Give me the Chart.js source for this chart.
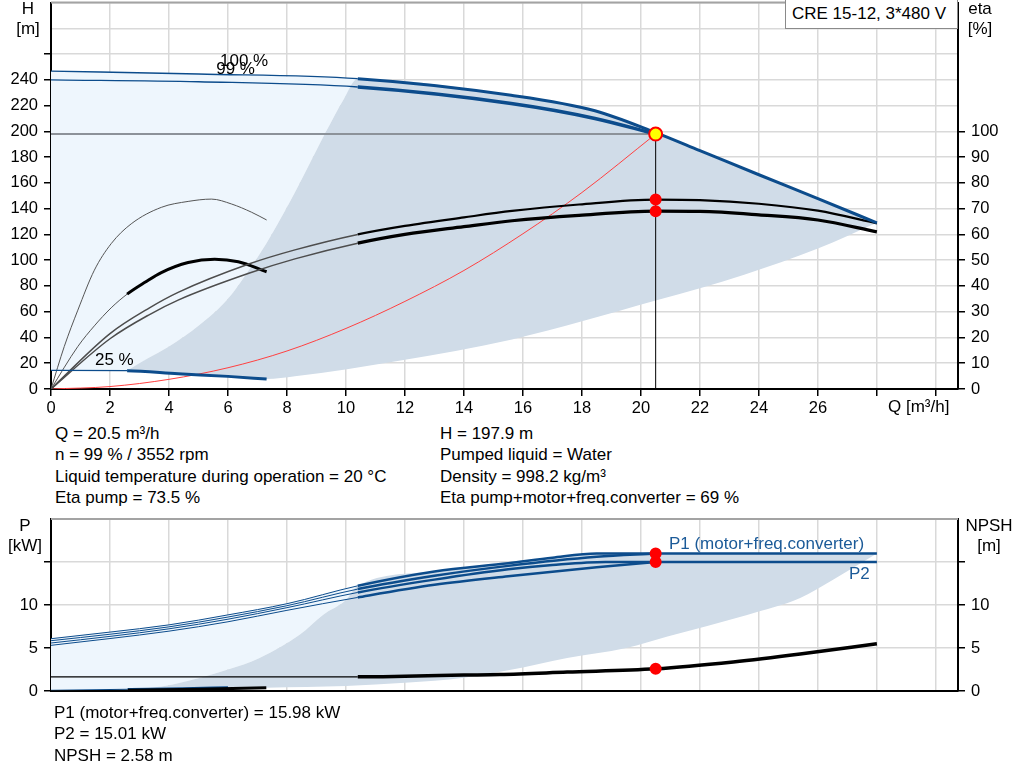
<!DOCTYPE html>
<html>
<head>
<meta charset="utf-8">
<script src="https://cdn.jsdelivr.net/npm/chart.js@4.4.1/dist/chart.umd.min.js"></script>
<style>
  body { margin: 0; background: #fff; font-family: "Liberation Sans", Arial, sans-serif; font-size: 17px; color: #000; }
  #wrap { position: relative; width: 1024px; height: 781px; overflow: hidden; }
  canvas { position: absolute; left: 0; }
  .t { position: absolute; white-space: nowrap; line-height: 21.3px; }
  .ax { position: absolute; width: 60px; text-align: center; line-height: 20px; }
  #legend { position: absolute; left: 785px; top: -1px; width: 165px; height: 28px; line-height: 28px;
            border: 1px solid #8a8a8a; background: #fff; padding-left: 6px; }
</style>
</head>
<body>
<div id="wrap">
  <canvas id="top" width="1024" height="426" style="top:-6px"></canvas>
  <canvas id="bottom" width="1024" height="200" style="top:510px"></canvas>

  <div class="ax" style="left:-2px;top:-1px">H<br>[m]</div>
  <div class="ax" style="left:950px;top:-1px">eta<br>[%]</div>
  <div class="t" style="left:888px;top:396px">Q [m³/h]</div>
  <div id="legend">CRE 15-12, 3*480 V</div>

  <div class="t" style="left:55px;top:423px">Q = 20.5 m³/h<br>n = 99 % / 3552 rpm<br>Liquid temperature during operation = 20 °C<br>Eta pump = 73.5 %</div>
  <div class="t" style="left:440px;top:423px">H = 197.9 m<br>Pumped liquid = Water<br>Density = 998.2 kg/m³<br>Eta pump+motor+freq.converter = 69 %</div>

  <div class="ax" style="left:-5px;top:516px">P<br>[kW]</div>
  <div class="ax" style="left:959px;top:516px">NPSH<br>[m]</div>

  <div class="t" style="left:54px;top:702px">P1 (motor+freq.converter) = 15.98 kW<br>P2 = 15.01 kW<br>NPSH = 2.58 m</div>
</div>

<script>
// ---- head / efficiency chart ----
const qMax = [0, 5, 10.4, 15.6, 18.44, 20.5, 22, 24, 26, 28];
const hMax = [246.8, 244.5, 240.9, 228, 216, 199, 185, 166.3, 147.7, 129];
const q99 = [0, 5, 10.4, 15.6, 18.44, 20.5];
const h99 = [240, 238.5, 234.4, 221.6, 210, 197.9];
const q25 = [0, 2.58, 4.31, 6, 7.31];
const h25 = [14.4, 14.2, 11.8, 9.8, 7.7];

const qEtaPump = [0, 2, 3.34, 4.31, 6.73, 8.27, 10.4, 12, 14, 15.63, 17.9, 20.5, 22, 24, 26, 28];
const etaPump = [0, 21.5, 31.5, 37.5, 48.6, 54, 60, 63.3, 66.6, 69.1, 71.6, 73.5, 73.3, 71.9, 69.2, 64.3];
const qEtaTot = [0, 2, 3.34, 4.31, 6.73, 8.27, 10.4, 12, 14, 15.63, 17.9, 20.5, 22, 24, 26, 28];
const etaTot = [0, 19.5, 28.9, 34.5, 45, 50.5, 56.6, 60, 63, 65.3, 67.4, 69, 68.9, 67.6, 65.6, 61];
const qEta25Pump = [0, 0.45, 0.91, 1.47, 2.04, 2.72, 3.74, 4.65, 5.44, 6.12, 6.8, 7.31];
const eta25Pump = [0, 16.5, 30.6, 46.1, 56.4, 64.1, 70.5, 72.8, 73.7, 71.8, 68.6, 65.6];
const qEta25Tot = [0, 0.91, 1.47, 2.04, 2.58, 3.2, 3.74, 4.65, 5.55, 6.35, 7.31];
const eta25Tot = [0, 16.5, 24.5, 31.5, 36.8, 41.5, 45.2, 49.1, 50.4, 49.4, 45.5];

const qSys = [0, 2, 4, 6, 8, 10, 12, 14, 16, 18, 20.5];
const hSys = [0, 1.9, 7.5, 16.5, 29.5, 47, 68, 92, 120.5, 152.5, 197.9];

// operating range edges
const qEdgeL = [2.58, 3.3, 4, 5, 6, 6.7, 7.3, 8, 8.66, 9.33, 9.9, 10.4];
const hEdgeL = [14.2, 24, 33, 49, 70, 92, 113, 141, 170, 200, 224, 240.9];
const qEdgeLow = [7.31, 8.27, 11.8, 15.63, 20.5, 23.5, 26, 28];
const hEdgeLow = [7.7, 9.8, 22, 38.5, 68.6, 88.7, 109, 129];

const dutyQ = 20.5, dutyH = 197.9, dutyEtaPump = 73.5, dutyEtaTot = 69;

// ---- power / NPSH chart ----
const qP1Max = [0, 2, 4, 6, 8, 10.4, 13, 15.5, 17, 18.5, 20.5, 24, 28];
const p1Max = [6.08, 6.85, 7.69, 8.85, 10.15, 12.23, 13.9, 14.85, 15.5, 15.98, 15.98, 15.98, 15.98];
const qP199 = [0, 2, 4, 6, 8, 10.4, 13, 15.5, 18.5, 20.5];
const p199 = [5.85, 6.6, 7.46, 8.6, 9.92, 11.85, 13.4, 14.55, 15.6, 15.98];
const qP2Max = [0, 2, 4, 6, 8, 10.4, 13, 15.5, 17, 18.8, 20.5, 24, 28];
const p2Max = [5.58, 6.35, 7.23, 8.35, 9.69, 11.46, 12.95, 14.15, 14.65, 15.01, 15.01, 15.01, 15.01];
const qP299 = [0, 2, 4, 6, 8, 10.4, 13, 15.5, 18.5, 20.5];
const p299 = [5.31, 6.1, 6.96, 8.05, 9.38, 10.88, 12.35, 13.35, 14.4, 15.01];
const qNpsh = [0, 10.4, 12, 14, 15.22, 17.5, 20.5, 23.13, 25.4, 28];
const npsh = [1.65, 1.65, 1.72, 1.85, 1.92, 2.2, 2.58, 3.38, 4.3, 5.5];
const qP25 = [0, 2.6, 4.5, 6];
const p25 = [0.08, 0.2, 0.3, 0.4];
const qN25 = [0, 2.6, 5, 7.3];
const n25 = [0.02, 0.08, 0.2, 0.38];

const qPEdgeL = [2.6, 4.13, 6, 7.07, 8.43, 9.22, 10, 10.4];
const pEdgeL = [0.08, 0.77, 2.5, 3.85, 6.54, 8.85, 10.58, 12.23];
const qPEdgeLow = [7.3, 10, 12, 14, 15.5, 17.5, 19.5, 20.9, 23.6, 25.4, 26.5, 28];
const pEdgeLow = [0.38, 0.58, 0.96, 1.54, 2.4, 3.85, 5.0, 6.35, 8.85, 10.8, 12.9, 15.98];

const dutyP1 = 15.98, dutyP2 = 15.01, dutyNpsh = 2.58;

const topLabels = [['100 %', 5.73, 254.5], ['99 %', 5.6, 248.3], ['25 %', 1.49, 22.4]];
const bottomLabels = [['P1 (motor+freq.converter)', 20.95, 17.1], ['P2', 27.76, 13.56, 'right']];

// ----------------------------------------------------------------
const BLUE = '#0c4c8c';
const LIGHT = '#eef6fd';
const GRAY = '#d0dce8';
const FONT = '"Liberation Sans", Arial, sans-serif';
Chart.defaults.font.family = FONT;
Chart.defaults.font.size = 16.5;
Chart.defaults.color = '#000';

const pts = (qs, vs) => qs.map((q, i) => ({x: q, y: vs[i]}));
const upTo = (qs, vs, q0) => pts(qs, vs).filter(p => p.x <= q0 + 1e-6);
const after = (qs, vs, q0) => pts(qs, vs).filter(p => p.x > q0 + 1e-6);
const from = (qs, vs, q0) => pts(qs, vs).filter(p => p.x >= q0 - 1e-6);

function curve(qs, vs, color, thin, thick, q0, extra) {
  return Object.assign({
    data: pts(qs, vs), borderColor: color, borderWidth: thick, pointRadius: 0,
    cubicInterpolationMode: 'monotone', fill: false, order: 10,
    segment: { borderWidth: c => c.p0.parsed.x < q0 - 1e-6 ? thin : thick }
  }, extra || {});
}
function edge(data, color) {
  return { data: data, borderColor: 'rgba(0,0,0,0)', borderWidth: 0, pointRadius: 0,
    cubicInterpolationMode: 'monotone', fill: color ? '+1' : false,
    backgroundColor: color || 'rgba(0,0,0,0)', order: 100 };
}
function dots(data, r, fillCol, axis) {
  return { data: data, showLine: false, pointRadius: r, pointBackgroundColor: fillCol,
    pointBorderColor: '#ff0000', pointBorderWidth: 2, yAxisID: axis || 'y', order: 0 };
}

const curveText = {
  id: 'curveText',
  afterDatasetsDraw(chart, args, opts) {
    const ctx = chart.ctx;
    ctx.save();
    ctx.font = '17px ' + FONT;
    ctx.textBaseline = 'middle';
    for (const l of opts.items) {
      ctx.fillStyle = opts.color;
      ctx.textAlign = l[3] || 'left';
      ctx.fillText(l[0], chart.scales.x.getPixelForValue(l[1]), chart.scales.y.getPixelForValue(l[2]));
    }
    ctx.restore();
  }
};
const frame = {
  id: 'frame',
  afterDraw(chart) {
    const {ctx, chartArea: a} = chart;
    ctx.save();
    ctx.strokeStyle = '#a3a3a3';
    ctx.lineWidth = 2;
    ctx.beginPath();
    ctx.moveTo(a.left, a.top);
    ctx.lineTo(a.right, a.top);
    ctx.stroke();
    ctx.restore();
  }
};

const noPad = s => { s.paddingTop = 0; s.paddingBottom = 0; s.paddingLeft = 0; s.paddingRight = 0; };

function xScale(showLabels, h) {
  return {
    type: 'linear', min: 0, max: 30.75,
    ticks: { stepSize: 2, includeBounds: false, autoSkip: false, maxRotation: 0, padding: 3,
      display: showLabels, callback: v => v <= 26 ? v : '' },
    grid: { color: '#d9d9d9', lineWidth: 1.5, tickColor: '#000', tickLength: 7, drawTicks: showLabels },
    border: { color: '#000', width: 2 },
    afterFit: s => { s.height = h; noPad(s); }
  };
}
function yScale(pos, max, step, lastLabel, lastTick, grid) {
  return {
    type: 'linear', position: pos, min: 0, max: max,
    ticks: { stepSize: step, includeBounds: false, autoSkip: false, padding: 6,
      callback: v => v <= lastLabel ? v : '' },
    grid: { color: '#d9d9d9', lineWidth: 1.5, drawOnChartArea: grid, tickLength: 7,
      tickColor: c => c.tick && c.tick.value > lastTick ? 'rgba(0,0,0,0)' : '#000' },
    border: { color: '#000', width: 2 },
    afterFit: s => { s.width = pos === 'left' ? 51 : 66; noPad(s); }
  };
}

// top chart
new Chart(document.getElementById('top'), {
  type: 'line',
  data: { datasets: [
    dots([{x: dutyQ, y: dutyEtaPump}, {x: dutyQ, y: dutyEtaTot}], 5, '#ff0000', 'y2'),
    { data: [{x: dutyQ, y: 0}, {x: dutyQ, y: dutyH}], borderColor: '#000', borderWidth: 1, pointRadius: 0, order: 1 },
    dots([{x: dutyQ, y: dutyH}], 6.5, '#ffff00'),
    curve(qMax, hMax, BLUE, 1.3, 3, 10.4),
    curve(q99, h99, BLUE, 1.3, 3.5, 10.4),
    curve(q25, h25, BLUE, 1.3, 3, 2.58),
    curve(qEtaPump, etaPump, '#111', 1.5, 2.2, 10.4, { yAxisID: 'y2', segment: {
      borderWidth: c => c.p0.parsed.x < 10.4 ? 1.5 : 2.2, borderColor: c => c.p0.parsed.x < 10.4 ? '#4d4d4d' : '#000' } }),
    curve(qEtaTot, etaTot, '#000', 1.5, 3.2, 10.4, { yAxisID: 'y2', segment: {
      borderWidth: c => c.p0.parsed.x < 10.4 ? 1.5 : 3.2, borderColor: c => c.p0.parsed.x < 10.4 ? '#4d4d4d' : '#000' } }),
    curve(qEta25Pump, eta25Pump, '#555', 1, 1, 0, { yAxisID: 'y2' }),
    curve(qEta25Tot, eta25Tot, '#000', 1, 3, 2.58, { yAxisID: 'y2', segment: {
      borderWidth: c => c.p0.parsed.x < 2.58 ? 1 : 3, borderColor: c => c.p0.parsed.x < 2.58 ? '#555' : '#000' } }),
    curve(qSys, hSys, '#ff4040', 1, 1, 0, { order: 20 }),
    { data: [{x: 0, y: dutyH}, {x: dutyQ, y: dutyH}], borderColor: '#8c9299', borderWidth: 2, pointRadius: 0, order: 30 },
    edge(pts(qEdgeL, hEdgeL).concat(after(qMax, hMax, 10.4)), GRAY),
    edge(from(q25, h25, 2.58).concat(after(qEdgeLow, hEdgeLow, 7.31))),
    edge(upTo(qMax, hMax, 10.4), LIGHT),
    edge(upTo(q25, h25, 2.58).concat(after(qEdgeL, hEdgeL, 2.58)))
  ] },
  options: {
    responsive: false, animation: false, devicePixelRatio: 1,
    layout: { padding: { top: 7, left: 0, right: 0, bottom: 0 } },
    plugins: { legend: { display: false }, tooltip: { enabled: false },
      curveText: { items: topLabels, color: '#000' } },
    scales: {
      x: xScale(true, 31),
      y: yScale('left', 300, 20, 240, 260, true),
      y2: yScale('right', 150, 10, 100, 100, false)
    }
  },
  plugins: [curveText, frame]
});

// bottom chart
new Chart(document.getElementById('bottom'), {
  type: 'line',
  data: { datasets: [
    dots([{x: dutyQ, y: dutyP1}, {x: dutyQ, y: dutyP2}], 5, '#ff0000'),
    dots([{x: dutyQ, y: dutyNpsh}], 5, '#ff0000', 'y2'),
    curve(qP1Max, p1Max, BLUE, 1, 2.5, 10.4),
    curve(qP199, p199, BLUE, 1, 2.5, 10.4),
    curve(qP2Max, p2Max, BLUE, 1, 2.5, 10.4),
    curve(qP299, p299, BLUE, 1, 2.5, 10.4),
    curve(qNpsh, npsh, '#000', 1.2, 3.5, 10.4, { yAxisID: 'y2' }),
    curve(qN25, n25, '#000', 1, 3, 2.6),
    curve(qP25, p25, BLUE, 1, 2.5, 2.6),
    edge(pts(qPEdgeL, pEdgeL).concat(after(qP1Max, p1Max, 10.4)), GRAY),
    edge(from(qN25, n25, 2.6).concat(after(qPEdgeLow, pEdgeLow, 7.3))),
    edge(upTo(qP1Max, p1Max, 10.4), LIGHT),
    edge(upTo(qP25, p25, 2.6).concat(after(qPEdgeL, pEdgeL, 2.6)))
  ] },
  options: {
    responsive: false, animation: false, devicePixelRatio: 1,
    layout: { padding: { top: 9, left: 0, right: 0, bottom: 0 } },
    plugins: { legend: { display: false }, tooltip: { enabled: false },
      curveText: { items: bottomLabels, color: '#1b5a98' } },
    scales: {
      x: xScale(false, 19),
      y: yScale('left', 20, 5, 10, 15, true),
      y2: yScale('right', 20, 5, 10, 15, false)
    }
  },
  plugins: [curveText, frame]
});
</script>
</body>
</html>
